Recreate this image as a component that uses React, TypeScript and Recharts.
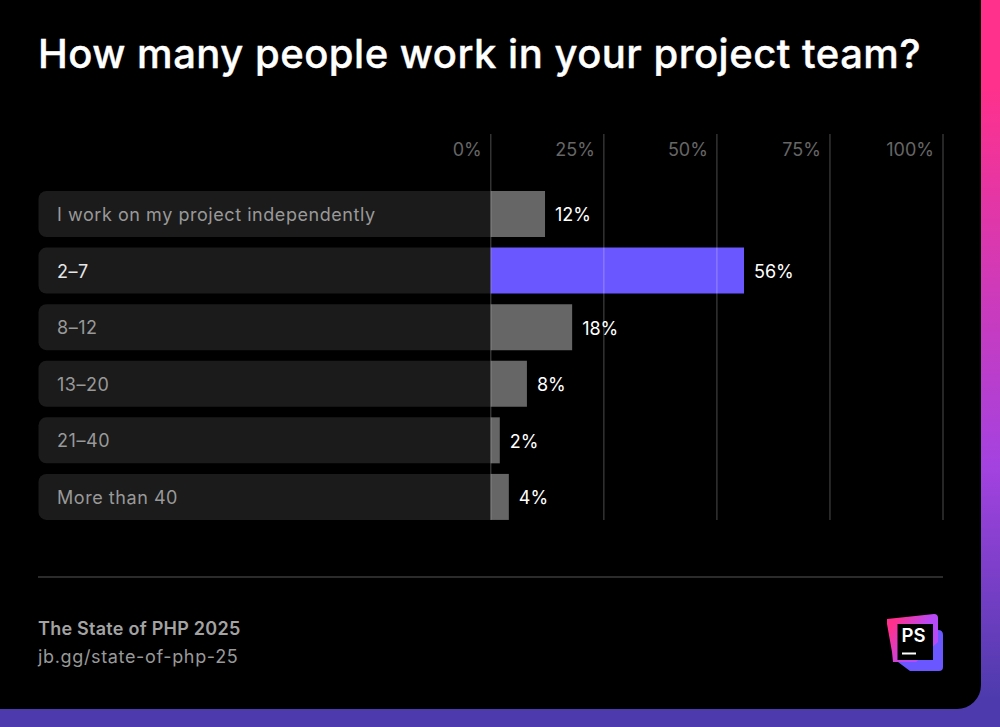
import React from "react";
import { Bar, BarChart, Cell, LabelList, ReferenceLine, XAxis, YAxis } from "recharts";

const categories = ["I work on my project independently", "2–7", "8–12", "13–20", "21–40", "More than 40"];
const shares = [12, 56, 18, 8, 2, 4];
const highlighted = "2–7";
const xTicks = [0, 25, 50, 75, 100];

// left half of the axis holds the label tracks behind the category names
const rows = categories.map((name, i) => ({ name, share: shares[i], track: -100 }));

const font = "Inter, sans-serif";

function XTick({ x, y, payload }: any) {
  return (
    <text x={x - 9} y={y + 30} textAnchor="end" fill="#666666" fontFamily={font} fontSize={18}>
      {payload.value}%
    </text>
  );
}

function YTick({ y, payload }: any) {
  return (
    <text
      x={57}
      y={y + 7}
      textAnchor="start"
      fill={payload.value === highlighted ? "#e6e6e6" : "#999999"}
      fontFamily={font}
      fontSize={18}
      letterSpacing={0.55}
    >
      {payload.value}
    </text>
  );
}

function Logo() {
  return (
    <svg width={60} height={60} style={{ position: "absolute", left: 886, top: 612 }}>
      <defs>
        <linearGradient id="logoPink" x1="0" y1="0.1" x2="0.9" y2="0.6">
          <stop offset="15%" stopColor="#ff318c" />
          <stop offset="75%" stopColor="#b74af7" />
        </linearGradient>
      </defs>
      <path d="M12 24 L52 18 Q57 18 57 23 L57 55 Q57 59 53 59 L24 59 L12 50 Z" fill="#6b57ff" />
      <path d="M1 7 L48 2 Q52 2 52 6 L52 30 L30 50 L7 50 L6 40 L1 12 Z" fill="url(#logoPink)" />
      <rect x={11.5} y={12} width={35.5} height={36} fill="#000" />
      <text x={15.5} y={30} fill="#fff" fontFamily={font} fontWeight={600} fontSize={18.5}>
        PS
      </text>
      <rect x={16} y={40.5} width={14} height={2} fill="#fff" />
    </svg>
  );
}

export default function App() {
  return (
    <div
      style={{
        position: "absolute",
        left: 0,
        top: 0,
        width: 1000,
        height: 727,
        overflow: "hidden",
        background: "linear-gradient(180deg, #ff318c 12%, #a442e0 64%, #4d3bad 96%)",
      }}
    >
      <div
        style={{
          position: "absolute",
          left: 0,
          top: 0,
          width: 981,
          height: 709,
          background: "#000",
          borderBottomRightRadius: 24,
        }}
      />
      <div
        style={{
          position: "absolute",
          left: 38,
          top: 29,
          color: "#fff",
          fontFamily: font,
          fontWeight: 500,
          fontSize: 40,
          letterSpacing: 0.5,
          lineHeight: "50px",
          whiteSpace: "nowrap",
          WebkitTextStroke: "0.4px #fff",
        }}
      >
        How many people work in your project team?
      </div>
      <div style={{ position: "absolute", left: 0, top: 133 }}>
        <BarChart
          width={1000}
          height={387}
          data={rows}
          layout="vertical"
          stackOffset="sign"
          barCategoryGap={5.25}
          margin={{ left: 37.5, right: 57, top: 0, bottom: 0 }}
        >
          <XAxis
            type="number"
            orientation="top"
            domain={[-100, 100]}
            ticks={xTicks}
            height={1}
            axisLine={false}
            tickLine={false}
            tick={<XTick />}
          />
          <YAxis
            type="category"
            dataKey="name"
            width={1}
            axisLine={false}
            tickLine={false}
            tick={<YTick />}
            padding={{ top: 51.75, bottom: -5.25 }}
            interval={0}
          />
          <Bar dataKey="track" stackId="a" fill="#1b1b1b" radius={[0, 8, 8, 0]} isAnimationActive={false} />
          <Bar dataKey="share" stackId="a" isAnimationActive={false}>
            {rows.map((r) => (
              <Cell key={r.name} fill={r.name === highlighted ? "#6b57ff" : "#666666"} />
            ))}
            <LabelList
              dataKey="share"
              position="right"
              offset={10}
              dy={1}
              formatter={(v: any) => `${v}%`}
              fill="#ffffff"
              fontFamily={font}
              fontSize={18}
            />
          </Bar>
          {xTicks.map((t) => (
            <ReferenceLine key={t} x={t} stroke="#ffffff" strokeOpacity={0.2} strokeWidth={1.5} />
          ))}
        </BarChart>
      </div>
      <div style={{ position: "absolute", left: 38, top: 576, width: 905, height: 1.5, background: "#2b2b2b" }} />
      <div
        style={{
          position: "absolute",
          left: 38,
          top: 617,
          color: "#a3a3a3",
          fontFamily: font,
          fontWeight: 600,
          fontSize: 18,
          letterSpacing: 0.25,
          lineHeight: "24px",
        }}
      >
        The State of PHP 2025
      </div>
      <div
        style={{
          position: "absolute",
          left: 38,
          top: 645,
          color: "#999999",
          fontFamily: font,
          fontSize: 18,
          letterSpacing: 0.65,
          lineHeight: "24px",
        }}
      >
        jb.gg/state-of-php-25
      </div>
      <Logo />
    </div>
  );
}
